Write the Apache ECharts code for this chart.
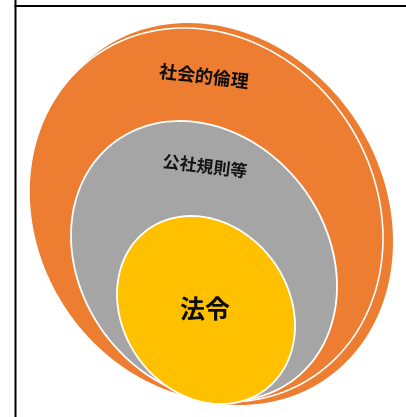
<!DOCTYPE html>
<html>
<head>
<meta charset="utf-8">
<script src="https://cdn.jsdelivr.net/npm/echarts@6/dist/echarts.min.js"></script>
<style>
html,body{margin:0;padding:0;background:#fff;}
#c{width:406px;height:417px;}
</style>
</head>
<body>
<div id="c"></div>
<script>
// Nested levels (outer -> inner); first entry is the back "shadow" layer of the outer ring
const levels = ['', '社会的倫理', '公社規則等', '法令'];
// values: nesting depth of each level
const depth = [0, 1, 2, 3];

// layout (in a 406 x 417 data space): centre, half-width, half-height, skew of lowest point
const layout = [
  {cx: 214, cy: 214, w: 179, h: 191, skew: 26, tx: 0,   ty: 0,   rot: 0},
  {cx: 206, cy: 215, w: 177, h: 187, skew: 22, tx: 204, ty: 76,  rot: -0.12},
  {cx: 204, cy: 261, w: 133, h: 140, skew: 24, tx: 205, ty: 166, rot: -0.12},
  {cx: 206, cy: 310, w: 89,  h: 94,  skew: 15, tx: 205, ty: 308, rot: 0}
];
const fills = ['#ED7D31', '#ED7D31', '#A5A5A5', '#FFC000'];
const strokes = ['#ED7D31', '#FFFFFF', '#FFFFFF', '#FFFFFF'];
const lineW = [0, 1.6, 1.8, 1.8];
const fontSizes = [0, 18, 17, 25];
const textColors = ['#000', '#0d0d0d', '#141414', '#0d0d0d'];

const chart = echarts.init(document.getElementById('c'), null, {renderer: 'canvas'});

function renderItem(params, api) {
  const i = params.dataIndex;
  const L = layout[i];
  const p = L.w * L.w, r = L.h * L.h, q = L.skew * L.h;
  const a = Math.sqrt(p), b = q / a, c = Math.sqrt(r - b * b);
  const pts = [];
  const N = 180;
  for (let k = 0; k < N; k++) {
    const t = 2 * Math.PI * k / N;
    pts.push(api.coord([L.cx + a * Math.cos(t), L.cy + b * Math.cos(t) + c * Math.sin(t)]));
  }
  const children = [{
    type: 'polygon',
    shape: {points: pts},
    style: {fill: fills[i], stroke: strokes[i], lineWidth: lineW[i]}
  }];
  if (levels[i]) {
    const tp = api.coord([L.tx, L.ty]);
    children.push({
      type: 'text',
      x: tp[0], y: tp[1],
      rotation: L.rot,
      style: {
        text: levels[i],
        fill: textColors[i],
        font: 'bold ' + fontSizes[i] + 'px "Noto Sans CJK JP"',
        align: 'center',
        verticalAlign: 'middle'
      }
    });
  }
  return {type: 'group', children: children};
}

chart.setOption({
  animation: false,
  backgroundColor: '#fff',
  grid: {left: 0, right: 0, top: 0, bottom: 0},
  xAxis: {type: 'value', min: 0, max: 406, show: false},
  yAxis: {type: 'value', min: 0, max: 417, inverse: true, show: false},
  graphic: [
    {type: 'line', shape: {x1: 15.5, y1: 0, x2: 15.5, y2: 417}, style: {stroke: '#000', lineWidth: 2}},
    {type: 'line', shape: {x1: 14.5, y1: 6, x2: 406, y2: 6}, style: {stroke: '#000', lineWidth: 2}}
  ],
  series: [{
    type: 'custom',
    renderItem: renderItem,
    data: depth.map(function (d, i) { return [layout[i].cx, layout[i].cy, d]; }),
    encode: {x: 0, y: 1},
    silent: true
  }]
});
</script>
</body>
</html>
